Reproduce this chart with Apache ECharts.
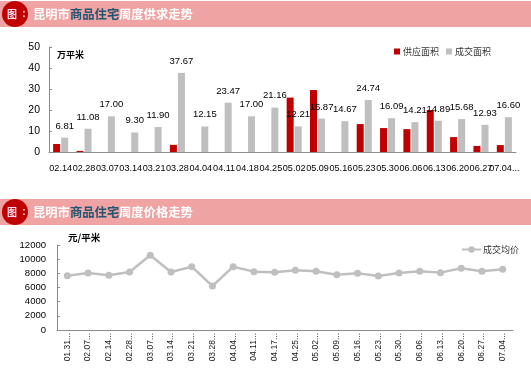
<!DOCTYPE html>
<html><head><meta charset="utf-8">
<script src="https://cdn.jsdelivr.net/npm/echarts@6/dist/echarts.min.js"></script>
<style>html,body{margin:0;padding:0;background:#fff;}#c{width:531px;height:374px;}</style>
</head><body><div id="c"></div>
<script>
const topCategories = ['02.14','02.28','03.07','03.14','03.21','03.28','04.04','04.11','04.18','04.25','05.02','05.09','05.16','05.23','05.30','06.06','06.13','06.20','06.27','07.04...'];
const supplyArea = [3.8, 0.5, null, null, null, 3.4, null, null, null, null, 25.9, 29.5, null, 13.3, 11.4, 10.9, 20.0, 7.1, 2.9, 3.3];
const dealArea = [6.81, 11.08, 17.00, 9.30, 11.90, 37.67, 12.15, 23.47, 17.00, 21.16, 12.21, 15.87, 14.67, 24.74, 16.09, 14.21, 14.89, 15.68, 12.93, 16.60];
const bottomCategories = ['01.31...','02.07...','02.14...','02.28...','03.07...','03.14...','03.21...','03.28...','04.04...','04.11...','04.17...','04.25...','05.02...','05.09...','05.16...','05.23...','05.30...','06.06...','06.13...','06.20...','06.27...','07.04...'];
const avgPrice = [7670, 8050, 7720, 8190, 10540, 8190, 8940, 6210, 8940, 8240, 8140, 8430, 8280, 7810, 8000, 7620, 8050, 8280, 8100, 8710, 8280, 8570];

const LAT = 'Liberation Sans, Noto Sans CJK SC, sans-serif';
const CJK = 'Noto Sans CJK SC, sans-serif';
const PINK = '#EFA3A3', RED = '#C00000', TEAL = '#1F5673', GRAY = '#BFBFBF', AXIS = '#8C8C8C';

function header(y, cy, part3) {
  return [
    {type:'rect', shape:{x:0, y:y, width:531, height:26}, style:{fill:PINK}},
    {type:'circle', shape:{cx:15, cy:cy, r:13}, style:{fill:RED}},
    {type:'text', x:12, y:cy, style:{text:'图', fill:'#F6DDF2', font:'bold 10px '+CJK, align:'center', verticalAlign:'middle'}},
    {type:'text', x:24, y:cy, style:{text:':', fill:'#fff', font:'bold 10px '+LAT, align:'center', verticalAlign:'middle'}},
    {type:'text', x:33, y:cy, style:{text:'昆明市', fill:'#fff', font:'bold 12.3px '+CJK, verticalAlign:'middle'}},
    {type:'text', x:70, y:cy, style:{text:'商品住宅', fill:TEAL, font:'bold 12.3px '+CJK, verticalAlign:'middle'}},
    {type:'text', x:119, y:cy, style:{text:part3, fill:'#fff', font:'bold 12.3px '+CJK, verticalAlign:'middle'}}
  ];
}

const chart = echarts.init(document.getElementById('c'), null, {renderer:'canvas'});
chart.setOption({
  animation:false,
  backgroundColor:'#fff',
  graphic: [].concat(
    header(1, 14, '周度供求走势'),
    header(199, 212, '周度价格走势'),
    [
      {type:'text', x:57, y:55, style:{text:'万平米', fill:'#000', font:'bold 9px '+CJK, verticalAlign:'middle'}},
      {type:'text', x:68, y:237, style:{text:'元/平米', fill:'#000', font:'bold 9.5px '+CJK, verticalAlign:'middle'}}
    ]
  ),
  legend:[
    {data:['供应面积','成交面积'], left:389, top:42, itemWidth:6, itemHeight:6, itemGap:7, icon:'rect',
     textStyle:{fontSize:9, fontFamily:CJK, color:'#333', padding:[0,0,0,-2]}},
    {data:['成交均价'], left:456, top:240, itemWidth:19, itemHeight:8, textStyle:{fontSize:9, fontFamily:CJK, color:'#333', padding:[0,0,0,-3]}}
  ],
  grid:[
    {left:49, right:15, top:47, bottom:222},
    {left:57, right:18, top:245, bottom:44}
  ],
  xAxis:[
    {type:'category', gridIndex:0, data:topCategories,
     axisLine:{lineStyle:{color:AXIS}}, axisTick:{inside:true, length:4, lineStyle:{color:AXIS}},
     axisLabel:{interval:0, fontSize:9.1, fontFamily:LAT, color:'#000', margin:12}},
    {type:'category', gridIndex:1, data:bottomCategories,
     axisLine:{lineStyle:{color:AXIS}}, axisTick:{inside:true, length:4, lineStyle:{color:AXIS}},
     axisLabel:{interval:0, rotate:90, fontSize:8.5, fontFamily:LAT, color:'#1a1a1a', margin:3}}
  ],
  yAxis:[
    {type:'value', gridIndex:0, min:0, max:50, interval:10,
     axisLine:{show:true, lineStyle:{color:AXIS}}, axisTick:{show:true, inside:true, length:3, lineStyle:{color:AXIS}},
     splitLine:{show:false}, axisLabel:{fontSize:10.5, fontFamily:LAT, color:'#000', margin:9}},
    {type:'value', gridIndex:1, min:0, max:12000, interval:2000,
     axisLine:{show:true, lineStyle:{color:AXIS}}, axisTick:{show:true, inside:true, length:3, lineStyle:{color:AXIS}},
     splitLine:{show:false}, axisLabel:{fontSize:9.5, fontFamily:LAT, color:'#000', margin:11, formatter: v => String(v)}}
  ],
  series:[
    {name:'供应面积', type:'bar', xAxisIndex:0, yAxisIndex:0, data:supplyArea, barWidth:7, barGap:'15%',
     itemStyle:{color:RED}},
    {name:'成交面积', type:'bar', xAxisIndex:0, yAxisIndex:0, data:dealArea, barWidth:7, barGap:'15%',
     itemStyle:{color:GRAY},
     label:{show:true, position:'top', distance:7, fontSize:9.5, fontFamily:LAT, color:'#000',
            formatter: p => Number(p.value).toFixed(2)}},
    {name:'成交均价', type:'line', xAxisIndex:1, yAxisIndex:1, data:avgPrice,
     symbol:'circle', symbolSize:7, lineStyle:{color:GRAY, width:2.5}, itemStyle:{color:GRAY}}
  ]
});
</script></body></html>
